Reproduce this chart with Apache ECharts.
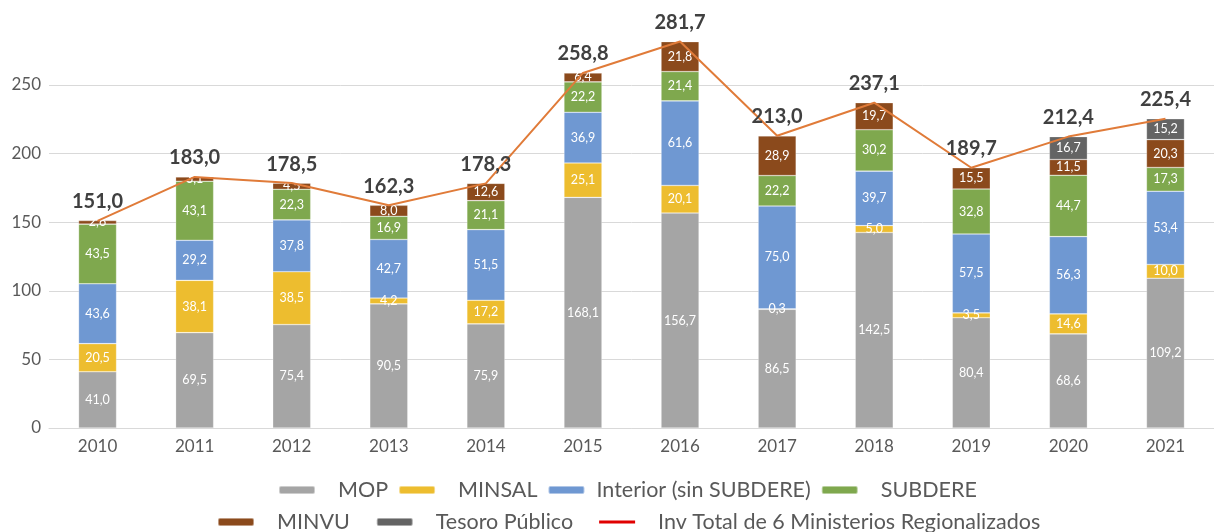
<!DOCTYPE html>
<html>
<head>
<meta charset="utf-8">
<script src="https://cdn.jsdelivr.net/npm/echarts@6/dist/echarts.min.js"></script>
<style>
  html, body { margin: 0; padding: 0; background: #fff; }
  #main { width: 1214px; height: 532px; }
</style>
</head>
<body>
<div id="main"></div>
<script>
// datos
var years = ["2010", "2011", "2012", "2013", "2014", "2015", "2016", "2017", "2018", "2019", "2020", "2021"];
var mop = [41.0, 69.5, 75.4, 90.5, 75.9, 168.1, 156.7, 86.5, 142.5, 80.4, 68.6, 109.2];
var minsal = [20.5, 38.1, 38.5, 4.2, 17.2, 25.1, 20.1, 0.3, 5.0, 3.5, 14.6, 10.0];
var interior = [43.6, 29.2, 37.8, 42.7, 51.5, 36.9, 61.6, 75.0, 39.7, 57.5, 56.3, 53.4];
var subdere = [43.5, 43.1, 22.3, 16.9, 21.1, 22.2, 21.4, 22.2, 30.2, 32.8, 44.7, 17.3];
var minvu = [2.6, 3.1, 4.5, 8.0, 12.6, 6.4, 21.8, 28.9, 19.7, 15.5, 11.5, 20.3];
var tesoro = [null, null, null, null, null, null, null, null, null, null, 16.7, 15.2];
var total = [151.0, 183.0, 178.5, 162.3, 178.3, 258.8, 281.7, 213.0, 237.1, 189.7, 212.4, 225.4];
var yTicks = [0, 50, 100, 150, 200, 250];

var fontFam = "Lato, 'Open Sans', sans-serif";
var lineName = "Inv Total de 6 Ministerios Regionalizados";

function coma(v) {
  return v.toFixed(1).replace(".", ",");
}

function barSerie(name, data, color) {
  return {
    name: name,
    type: "bar",
    stack: "inv",
    data: data,
    barWidth: 38,
    clip: false,
    itemStyle: { color: color, borderColor: "rgba(255,255,255,0.45)", borderWidth: 0.6 },
    label: {
      show: true,
      position: "inside",
      color: "#ffffff",
      fontSize: 12.5,
      fontFamily: fontFam,
      formatter: function (p) { return p.value == null ? "" : coma(p.value); },
    },
  };
}

// texto de la leyenda con espacio antes del nombre
var legendText = {
  color: "#595959",
  fontSize: 21,
  fontFamily: fontFam,
  rich: {
    a: { fontSize: 21.5, fontFamily: fontFam, color: "#595959", padding: [0, 0, 0, 18] },
    b: { fontSize: 21.5, fontFamily: fontFam, color: "#595959", padding: [0, 0, 0, 7] },
  },
};
function legendFmt(name) {
  if (name === "Interior (sin SUBDERE)") return "{b|" + name + "}";
  return "{a|" + name + "}";
}

var myChart = echarts.init(document.getElementById("main"));

var option = {
  animation: false,
  grid: { left: 49, top: 85, width: 1171, bottom: 104 },
  legend: [
    {
      top: 474,
      left: 273,
      itemWidth: 36,
      itemHeight: 8,
      itemGap: 10,
      textStyle: legendText,
      formatter: legendFmt,
      data: ["MOP", "MINSAL", "Interior (sin SUBDERE)", "SUBDERE"],
    },
    {
      top: 506,
      left: 212,
      itemWidth: 36,
      itemHeight: 8,
      itemGap: 26,
      textStyle: legendText,
      formatter: legendFmt,
      data: [
        "MINVU",
        "Tesoro Público",
        {
          name: lineName,
          icon: "path://M0,0 L38,0 L38,3 L0,3 Z",
          itemStyle: { color: "#E00000" },
        },
      ],
    },
  ],
  xAxis: {
    type: "category",
    data: years,
    axisLine: { lineStyle: { color: "#D9D9D9" } },
    axisTick: { show: false },
    axisLabel: { color: "#595959", fontSize: 17, fontFamily: fontFam, margin: 10 },
  },
  yAxis: {
    type: "value",
    min: yTicks[0],
    max: yTicks[yTicks.length - 1],
    interval: 50,
    axisLine: { show: false },
    axisTick: { show: false },
    splitLine: { lineStyle: { color: "#D9D9D9", width: 1 } },
    axisLabel: { color: "#595959", fontSize: 17, fontFamily: fontFam, margin: 8 },
  },
  series: [
    barSerie("MOP", mop, "#A5A5A5"),
    barSerie("MINSAL", minsal, "#EDBD2F"),
    barSerie("Interior (sin SUBDERE)", interior, "#6F98D2"),
    barSerie("SUBDERE", subdere, "#7FA84E"),
    barSerie("MINVU", minvu, "#8B4A1C"),
    barSerie("Tesoro Público", tesoro, "#646464"),
    {
      name: lineName,
      type: "line",
      data: total,
      clip: false,
      symbol: "circle",
      symbolSize: 0.1,
      showSymbol: true,
      z: 5,
      lineStyle: { color: "#E07B39", width: 2 },
      itemStyle: { color: "#E07B39" },
      label: {
        show: true,
        position: "top",
        distance: 9,
        color: "#404040",
        fontSize: 20,
        fontWeight: "bold",
        fontFamily: fontFam,
        formatter: function (p) { return coma(p.value); },
      },
    },
  ],
};

myChart.setOption(option);
</script>
</body>
</html>
